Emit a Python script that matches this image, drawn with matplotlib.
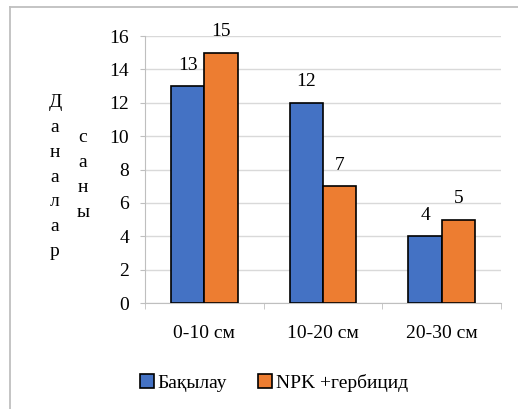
import numpy as np
import matplotlib.pyplot as plt
from matplotlib.lines import Line2D
from matplotlib.font_manager import FontProperties

FONT = 'Liberation Serif'
fp = FontProperties(family=FONT, size=14)

categories = ['0-10 см', '10-20 см', '20-30 см']
control = [13, 12, 4]
npk = [15, 7, 5]
series_names = ['Бақылау', 'NPK +гербицид']

W, H = 518, 409
fig = plt.figure(figsize=(W / 100, H / 100), dpi=100)

# outer chart frame (Excel style, only top/left visible)
fig.add_artist(Line2D([10 / W, 1.0], [1 - 7 / H, 1 - 7 / H], color='#BFBFBF', lw=1.3))
fig.add_artist(Line2D([10 / W, 10 / W], [0.0, 1 - 7 / H], color='#BFBFBF', lw=1.3))

ax = fig.add_axes([145 / W, 1 - 303 / H, (501 - 145) / W, (303 - 36) / H])

x = np.arange(len(categories))
w = 0.28
b1 = ax.bar(x - w / 2, control, w, color='#4472C4', edgecolor='black', lw=1.2,
            label=series_names[0], zorder=3)
b2 = ax.bar(x + w / 2, npk, w, color='#ED7D31', edgecolor='black', lw=1.2,
            label=series_names[1], zorder=3)

for bars, vals in [(b1, control), (b2, npk)]:
    for r, v in zip(bars, vals):
        ax.text(r.get_x() + r.get_width() / 2, v + 0.75, str(v),
                ha='center', va='bottom', fontproperties=fp)

ax.set_xlim(-0.5, 2.5)
ax.set_ylim(0, 16)
ax.set_yticks(range(0, 17, 2))
ax.set_xticks(x)
ax.set_xticks([-0.5, 0.5, 1.5, 2.5], minor=True)
ax.tick_params(axis='x', which='major', length=0, pad=16)
ax.tick_params(axis='x', which='minor', length=4, color='#BFBFBF')
ax.tick_params(axis='y', length=3.6, color='#BFBFBF', pad=8)
ax.set_yticklabels([str(v) for v in range(0, 17, 2)], fontproperties=fp)
ax.set_xticklabels(categories, fontproperties=fp)
ax.grid(axis='y', color='#D9D9D9', lw=1, zorder=0)
for s in ['top', 'right']:
    ax.spines[s].set_visible(False)
for s in ['left', 'bottom']:
    ax.spines[s].set_color('#BFBFBF')

# vertical stacked y label
fig.text(55 / W, 1 - 177 / H, 'Д\nа\nн\nа\nл\nа\nр', ha='center', va='center',
         fontproperties=fp, linespacing=1.6)
fig.text(83 / W, 1 - 175 / H, 'с\nа\nн\nы', ha='center', va='center',
         fontproperties=fp, linespacing=1.6)

fig.legend(loc='center', bbox_to_anchor=(274 / W, 1 - 383 / H), ncol=2,
           frameon=False, prop=fp,
           handlelength=0.7, handleheight=0.7,
           handletextpad=0.2, columnspacing=1.6)

fig.savefig('out.png', dpi=100)
